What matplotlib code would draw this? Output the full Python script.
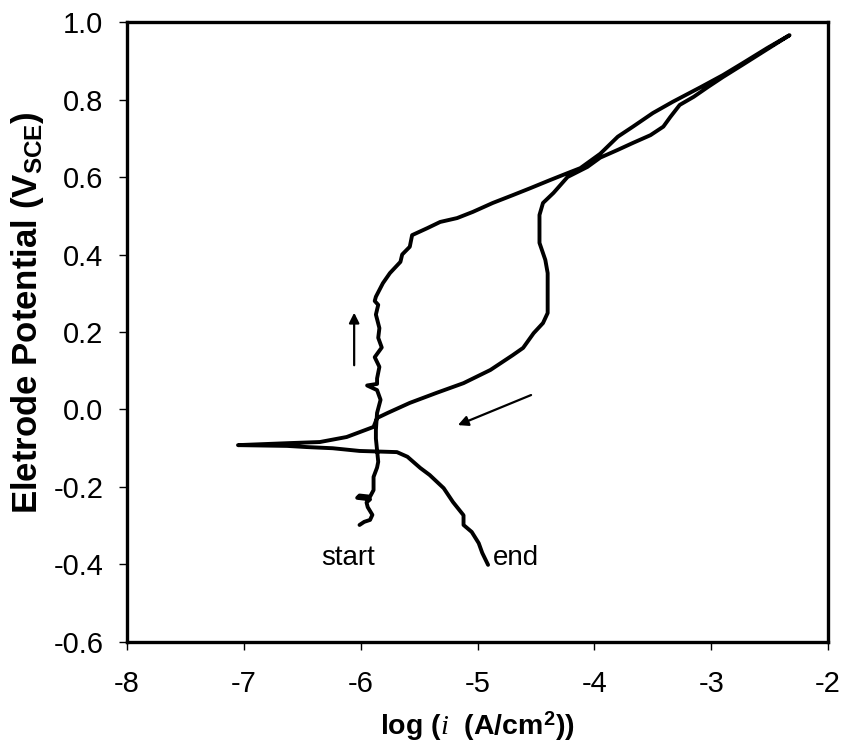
import matplotlib
matplotlib.use("Agg")
import matplotlib.pyplot as plt

plt.rcParams['font.family'] = ['Liberation Sans', 'DejaVu Sans']
plt.rcParams['mathtext.fontset'] = 'custom'
plt.rcParams['mathtext.rm'] = 'Liberation Sans:bold'
plt.rcParams['mathtext.it'] = 'Liberation Serif:italic'
plt.rcParams['mathtext.bf'] = 'Liberation Sans:bold'

# Forward scan (start -> vertex)
fwd_logi = [-6.01, -5.97, -5.92, -5.90, -5.94, -5.95, -5.92, -6.03, -6.01, -5.92,
            -5.89, -5.89, -5.86, -5.85, -5.86, -5.87, -5.87, -5.86, -5.83, -5.86,
            -5.945, -5.86, -5.86, -5.84, -5.88, -5.82, -5.85, -5.84, -5.87, -5.85,
            -5.88, -5.87, -5.81, -5.75, -5.66, -5.645, -5.58, -5.56, -5.43, -5.32,
            -5.175, -5.04, -4.87, -4.70, -4.55, -4.38, -4.23, -4.12, -3.95, -3.80,
            -3.67, -3.50, -3.33, -3.09, -2.90, -2.73, -2.52, -2.33]
fwd_E = [-0.298, -0.290, -0.285, -0.272, -0.252, -0.240, -0.232, -0.228, -0.222, -0.225,
         -0.208, -0.174, -0.150, -0.135, -0.105, -0.075, -0.053, -0.009, 0.025, 0.050,
         0.062, 0.066, 0.080, 0.110, 0.135, 0.160, 0.185, 0.210, 0.245, 0.270,
         0.280, 0.291, 0.326, 0.352, 0.381, 0.400, 0.420, 0.450, 0.468, 0.484,
         0.494, 0.510, 0.533, 0.553, 0.571, 0.592, 0.610, 0.623, 0.660, 0.704,
         0.730, 0.765, 0.794, 0.832, 0.863, 0.894, 0.933, 0.966]

# Reverse scan (vertex -> end)
rev_logi = [-2.52, -2.73, -2.90, -3.03, -3.15, -3.27, -3.35, -3.41, -3.52, -3.67,
            -3.80, -3.95, -4.06, -4.23, -4.35, -4.44, -4.47, -4.47, -4.42, -4.40,
            -4.40, -4.44, -4.52, -4.61, -4.70, -4.89, -5.12, -5.35, -5.58, -5.77,
            -5.86, -5.89, -6.12, -6.35, -6.63, -7.05, -6.63, -6.46, -6.24, -6.01,
            -5.69, -5.60, -5.49, -5.41, -5.29, -5.21, -5.12, -5.12, -5.05, -4.99,
            -4.96, -4.91]
rev_E = [0.930, 0.890, 0.858, 0.832, 0.807, 0.786, 0.755, 0.730, 0.708, 0.688,
         0.670, 0.650, 0.626, 0.600, 0.559, 0.533, 0.502, 0.430, 0.386, 0.352,
         0.249, 0.223, 0.197, 0.159, 0.140, 0.102, 0.068, 0.043, 0.017, -0.009,
         -0.022, -0.045, -0.071, -0.084, -0.087, -0.092, -0.094, -0.097, -0.100, -0.107,
         -0.110, -0.122, -0.151, -0.169, -0.203, -0.239, -0.273, -0.298, -0.316, -0.345,
         -0.370, -0.401]

x_ticks = [-8, -7, -6, -5, -4, -3, -2]
y_ticks = [-0.6, -0.4, -0.2, 0.0, 0.2, 0.4, 0.6, 0.8, 1.0]

fig = plt.figure(figsize=(8.45, 7.49), dpi=100)
ax = fig.add_axes([0.1503, 0.1429, 0.8297, 0.8277])

ax.plot(fwd_logi + rev_logi, fwd_E + rev_E, color='black', lw=2.8,
        solid_joinstyle='round', solid_capstyle='round')

ax.set_xlim(-8, -2)
ax.set_ylim(-0.6, 1.0)
ax.set_xticks(x_ticks)
ax.set_yticks(y_ticks)
ax.set_xticklabels([f"{t:d}" for t in x_ticks])
ax.set_yticklabels([f"{t:.1f}" for t in y_ticks])
ax.tick_params(direction='out', length=6, width=1, labelsize=21, colors='black')
ax.tick_params(axis='x', pad=14)
ax.tick_params(axis='y', pad=11)
for s in ax.spines.values():
    s.set_linewidth(2.4)
    s.set_color('black')

ax.set_xlabel(r'log ($i$  (A/cm$^{\mathbf{2}}$))', fontsize=20.5, fontweight='bold', labelpad=8)
ax.set_ylabel(r'Eletrode Potential (V$_{\mathbf{SCE}}$)', fontsize=25, fontweight='bold')
ax.yaxis.set_label_coords(-0.115, 0.532)

# arrows
ax.annotate('', xy=(-6.056, 0.257), xytext=(-6.056, 0.107),
            arrowprops=dict(arrowstyle='-|>', color='black', lw=1.6, mutation_scale=15))
ax.annotate('', xy=(-5.19, -0.043), xytext=(-4.52, 0.040),
            arrowprops=dict(arrowstyle='-|>', color='black', lw=1.6, mutation_scale=15))

ax.text(-6.112, -0.401, 'start', fontsize=20, ha='center', va='baseline')
ax.text(-4.867, -0.401, 'end', fontsize=20, ha='left', va='baseline')

fig.savefig('out.png', dpi=100)
